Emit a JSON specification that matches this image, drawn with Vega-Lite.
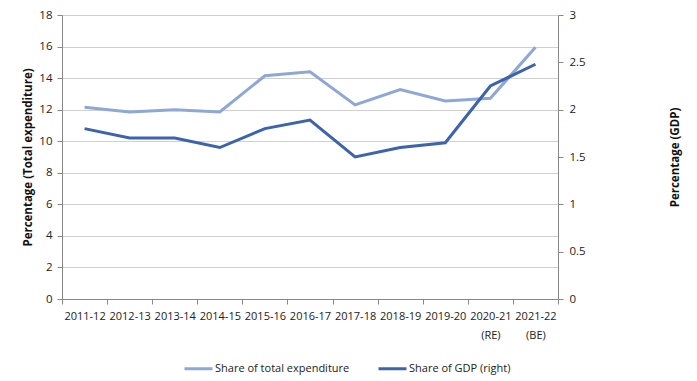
{
  "$schema": "https://vega.github.io/schema/vega-lite/v6.json",
  "autosize": "none",
  "width": 496,
  "height": 284,
  "padding": {"left": 62, "top": 15, "right": 139, "bottom": 82},
  "background": "white",
  "config": {
    "font": "Open Sans",
    "view": {"stroke": null},
    "axis": {"labelFont": "Open Sans", "labelFontSize": 11.5, "labelColor": "#222222", "titleFont": "Open Sans", "titleFontSize": 11.5, "titleFontWeight": "bold", "titleColor": "#111111", "domainColor": "#888888", "tickColor": "#888888", "gridColor": "#d0d0d0"}
  },
  "data": {"values": [
    {"year": "2011-12", "series": "Share of total expenditure", "value": 12.15},
    {"year": "2012-13", "series": "Share of total expenditure", "value": 11.85},
    {"year": "2013-14", "series": "Share of total expenditure", "value": 12.0},
    {"year": "2014-15", "series": "Share of total expenditure", "value": 11.85},
    {"year": "2015-16", "series": "Share of total expenditure", "value": 14.15},
    {"year": "2016-17", "series": "Share of total expenditure", "value": 14.4},
    {"year": "2017-18", "series": "Share of total expenditure", "value": 12.3},
    {"year": "2018-19", "series": "Share of total expenditure", "value": 13.28},
    {"year": "2019-20", "series": "Share of total expenditure", "value": 12.55},
    {"year": "2020-21 (RE)", "series": "Share of total expenditure", "value": 12.72},
    {"year": "2021-22 (BE)", "series": "Share of total expenditure", "value": 15.95},
    {"year": "2011-12", "series": "Share of GDP (right)", "value": 1.8},
    {"year": "2012-13", "series": "Share of GDP (right)", "value": 1.7},
    {"year": "2013-14", "series": "Share of GDP (right)", "value": 1.7},
    {"year": "2014-15", "series": "Share of GDP (right)", "value": 1.6},
    {"year": "2015-16", "series": "Share of GDP (right)", "value": 1.8},
    {"year": "2016-17", "series": "Share of GDP (right)", "value": 1.89},
    {"year": "2017-18", "series": "Share of GDP (right)", "value": 1.5},
    {"year": "2018-19", "series": "Share of GDP (right)", "value": 1.6},
    {"year": "2019-20", "series": "Share of GDP (right)", "value": 1.65},
    {"year": "2020-21 (RE)", "series": "Share of GDP (right)", "value": 2.25},
    {"year": "2021-22 (BE)", "series": "Share of GDP (right)", "value": 2.48}
  ]},
  "encoding": {
    "x": {"field": "year", "type": "nominal", "sort": null,
      "scale": {"type": "band", "paddingInner": 0, "paddingOuter": 0},
      "axis": {"title": null, "labelAngle": 0, "tickBand": "extent", "tickSize": 5, "labelPadding": 6, "labelExpr": "split(datum.label, ' ')", "labelLineHeight": 19, "grid": false, "labelFontSize": 11}}
  },
  "layer": [
    {
      "transform": [{"filter": "datum.series == 'Share of total expenditure'"}],
      "mark": {"type": "line", "strokeWidth": 3},
      "encoding": {
        "y": {"field": "value", "type": "quantitative", "scale": {"domain": [0, 18]},
          "axis": {"title": "Percentage (Total expenditure)", "values": [0, 2, 4, 6, 8, 10, 12, 14, 16, 18], "tickSize": 5, "grid": true, "titlePadding": 5, "labelPadding": 5}},
        "color": {"field": "series", "type": "nominal",
          "scale": {"domain": ["Share of total expenditure", "Share of GDP (right)"], "range": ["#8FA7D6", "#3D63AD"]},
          "legend": {"title": null, "orient": "none", "legendX": 121, "legendY": 338, "direction": "horizontal", "symbolType": "stroke", "symbolStrokeWidth": 3, "symbolSize": 784, "labelFont": "Open Sans", "labelFontSize": 11, "labelColor": "#222222", "columnPadding": 22, "symbolOffset": 0, "labelOffset": 1}}
      }
    },
    {
      "transform": [{"filter": "datum.series == 'Share of GDP (right)'"}],
      "mark": {"type": "line", "strokeWidth": 3},
      "encoding": {
        "y": {"field": "value", "type": "quantitative", "scale": {"domain": [0, 3]},
          "axis": {"orient": "right", "title": "Percentage (GDP)", "values": [0, 0.5, 1, 1.5, 2, 2.5, 3], "format": "~g", "tickSize": 5, "grid": false, "titleAngle": 270, "titlePadding": 95, "labelPadding": 6}},
        "color": {"field": "series", "type": "nominal"}
      }
    }
  ],
  "resolve": {"scale": {"y": "independent"}}
}
